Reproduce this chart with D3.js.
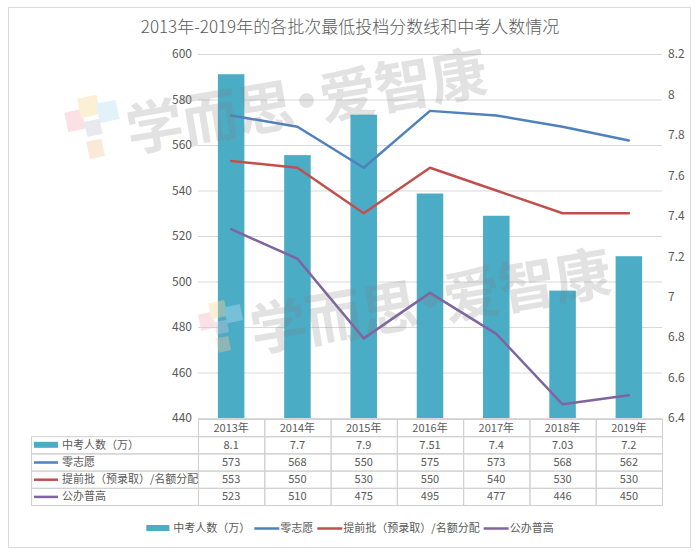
<!DOCTYPE html>
<html><head><meta charset="utf-8">
<script src="https://cdn.jsdelivr.net/npm/d3@7"></script>
<style>
body{margin:0;background:#fff;}
svg text{font-family:"Noto Sans CJK SC","Noto Sans",sans-serif;}
</style></head>
<body><svg id="c" width="700" height="559"></svg>
<script>
const title = "2013年-2019年的各批次最低投档分数线和中考人数情况";
const years = ["2013年","2014年","2015年","2016年","2017年","2018年","2019年"];
const students = [8.1,7.7,7.9,7.51,7.4,7.03,7.2];
const zeroWish = [573,568,550,575,573,568,562];
const earlyBatch = [553,550,530,550,540,530,530];
const publicHigh = [523,510,475,495,477,446,450];
const leftTicks = [440,460,480,500,520,540,560,580,600];
const rightTicks = [6.4,6.6,6.8,7,7.2,7.4,7.6,7.8,8,8.2];
const seriesNames = ["中考人数（万）","零志愿","提前批（预录取）/名额分配","公办普高"];
const colors = ["#4bacc6","#4f81bd","#c0504d","#8064a2"];
const watermarkParts = ["学而思","·","爱智康"];

const svg = d3.select("#c");
const txt = "#595959";
const W = {l:198, r:662, t:54, b:418};

// outer border
svg.append("rect").attr("x",8.5).attr("y",7.5).attr("width",682).attr("height",540)
  .attr("fill","#fff").attr("stroke","#d9d9d9");

svg.append("text").attr("x",350).attr("y",33).attr("text-anchor","middle")
  .attr("font-size",17).attr("fill",txt).attr("font-weight",300).text(title);

const x = d3.scaleBand().domain(years).range([W.l,W.r]);
const yL = d3.scaleLinear().domain([440,600]).range([W.b,W.t]);
const yR = d3.scaleLinear().domain([6.4,8.2]).range([W.b,W.t]);

// gridlines
svg.append("g").selectAll("line").data(leftTicks).join("line")
  .attr("x1",W.l).attr("x2",W.r).attr("y1",d=>yL(d)+0.5).attr("y2",d=>yL(d)+0.5)
  .attr("stroke","#d9d9d9");

// axes
const axL = svg.append("g").attr("transform",`translate(${W.l-6},0)`)
  .call(d3.axisLeft(yL).tickValues(leftTicks).tickSize(0).tickPadding(0));
const axR = svg.append("g").attr("transform",`translate(${W.r+6},0)`)
  .call(d3.axisRight(yR).tickValues(rightTicks).tickSize(0).tickPadding(0).tickFormat(d3.format("~g")));
[axL,axR].forEach(a=>{a.select(".domain").remove();
  a.selectAll("text").attr("font-size",12).attr("fill",txt).attr("font-family",'"Noto Sans CJK SC",sans-serif');});

// bars
const bw = x.bandwidth()*0.4;
svg.append("g").selectAll("rect").data(students).join("rect")
  .attr("x",(d,i)=>x(years[i])+(x.bandwidth()-bw)/2).attr("width",bw)
  .attr("y",d=>yR(d)).attr("height",d=>W.b-yR(d)).attr("fill",colors[0]);

// lines
const line = d3.line().x((d,i)=>x(years[i])+x.bandwidth()/2).y(d=>yL(d));
[zeroWish,earlyBatch,publicHigh].forEach((s,k)=>{
  svg.append("path").datum(s).attr("d",line).attr("fill","none")
    .attr("stroke",colors[k+1]).attr("stroke-width",2.5).attr("stroke-linejoin","round").attr("stroke-linecap","round");
});

// watermark logos & texts
function logo(gx,gy,s){
  const g = svg.append("g").attr("transform",`translate(${gx},${gy}) rotate(-12) scale(${s})`).attr("opacity",0.4);
  [[0,10,16,18,"#f4b6c2"],[14,0,18,18,"#f6dc9a"],[30,8,18,18,"#b9dff2"],[16,22,14,14,"#c7c7d9"],[14,40,14,16,"#f5c7a0"]]
    .forEach(r=>g.append("rect").attr("x",r[0]).attr("y",r[1]).attr("width",r[2]).attr("height",r[3]).attr("fill",r[4]));
}
logo(62,102,1.1);
logo(196,306,0.9);
[[130,152],[254,352]].forEach(p=>{
  const t = svg.append("text").attr("transform",`translate(${p[0]},${p[1]}) rotate(-9.5)`)
    .attr("font-size",57).attr("font-weight",700).attr("fill","#7f7f7f").attr("opacity",0.22)
    .attr("letter-spacing",-1);
  watermarkParts.forEach((s,i)=>t.append("tspan").attr("dx",i===0?0:-14).text(s));
});

// data table
const fs = 11;
const rowH = 17.2, tTop = W.b+1, tLeft = 31;
const tb = svg.append("g");
const hdrY = tTop, rows = [students,zeroWish,earlyBatch,publicHigh];
const grid = "#d0d0d0";
years.forEach((yv,i)=>{
  tb.append("rect").attr("x",x(yv)+0.5).attr("y",hdrY+0.5).attr("width",x.bandwidth()).attr("height",rowH)
    .attr("fill","none").attr("stroke",grid);
  tb.append("text").attr("x",x(yv)+x.bandwidth()/2).attr("y",hdrY+rowH/2+4).attr("text-anchor","middle")
    .attr("font-size",fs).attr("fill",txt).text(yv);
});
rows.forEach((r,k)=>{
  const yy = hdrY+rowH*(k+1);
  tb.append("rect").attr("x",tLeft+0.5).attr("y",yy+0.5).attr("width",W.l-tLeft).attr("height",rowH)
    .attr("fill","none").attr("stroke",grid);
  if(k===0) tb.append("rect").attr("x",34).attr("y",yy+rowH/2-3).attr("width",24).attr("height",6).attr("fill",colors[0]);
  else tb.append("line").attr("x1",34).attr("x2",58).attr("y1",yy+rowH/2+0.5).attr("y2",yy+rowH/2+0.5).attr("stroke",colors[k]).attr("stroke-width",2.5);
  tb.append("text").attr("x",62).attr("y",yy+rowH/2+4).attr("font-size",fs).attr("fill",txt).text(seriesNames[k]);
  r.forEach((v,i)=>{
    tb.append("rect").attr("x",x(years[i])+0.5).attr("y",yy+0.5).attr("width",x.bandwidth()).attr("height",rowH)
      .attr("fill","none").attr("stroke",grid);
    tb.append("text").attr("x",x(years[i])+x.bandwidth()/2).attr("y",yy+rowH/2+4).attr("text-anchor","middle")
      .attr("font-size",fs).attr("fill",txt).text(v);
  });
});

// legend
const lg = svg.append("g");
let cx = 0;
seriesNames.forEach((n,k)=>{
  const g = lg.append("g").attr("transform",`translate(${cx},0)`);
  if(k===0) g.append("rect").attr("x",0).attr("y",-3).attr("width",23).attr("height",6).attr("fill",colors[0]);
  else g.append("line").attr("x1",0).attr("x2",25).attr("y1",0.5).attr("y2",0.5).attr("stroke",colors[k]).attr("stroke-width",2.5);
  const t = g.append("text").attr("x",k===0?27:26).attr("y",4).attr("font-size",fs).attr("fill",txt).text(n);
  cx += (k===0?27:26) + t.node().getComputedTextLength() + 4;
});
lg.attr("transform",`translate(${350-(cx-4)/2},528)`);
</script></body></html>
